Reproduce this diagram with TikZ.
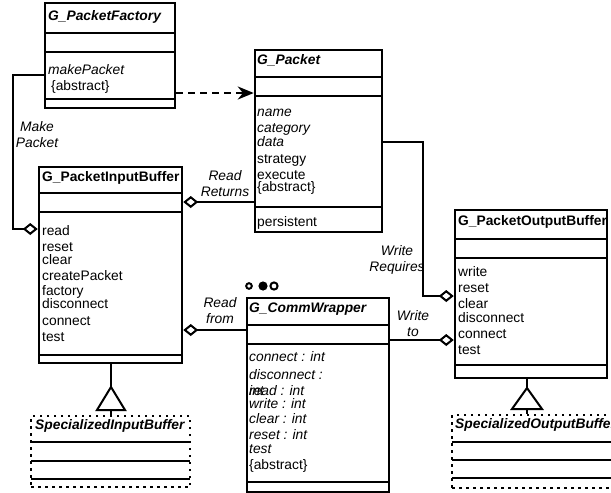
\documentclass[tikz,border=0pt]{standalone}
\usepackage{fontspec}
\setmainfont{Liberation Sans}
\usetikzlibrary{arrows.meta}

\tikzset{
  classbox/.style={draw, line width=2.5pt, inner sep=0pt},
  dotbox/.style={draw, line width=2pt, dash pattern=on 2.5pt off 4.5pt, inner sep=0pt},
  sep/.style={line width=2pt},
  txt/.style={anchor=west, inner sep=0pt, text height=10pt, text depth=3pt, font=\fontsize{13.8}{16}\selectfont},
  itxt/.style={txt, font=\fontsize{13.8}{16}\selectfont\itshape},
  ttl/.style={txt, font=\fontsize{13.8}{16}\selectfont\bfseries},
  ittl/.style={txt, font=\fontsize{13.8}{16}\selectfont\bfseries\itshape},
  lbl/.style={align=center, inner sep=0pt, font=\fontsize{13.8}{16}\selectfont\itshape},
  aggr/.style={line width=2pt, -{Diamond[open, length=15pt, width=12pt]}},
}

\begin{document}
\begin{tikzpicture}[x=1pt, y=-1pt]
\clip (0,0) rectangle (611,493);

% class boxes
\node[classbox, minimum width=130pt, minimum height=105pt] (fac) at (110,55.5) {};
\node[classbox, minimum width=127pt, minimum height=182pt] (pkt) at (318.5,141) {};
\node[classbox, minimum width=143pt, minimum height=196pt] (inb) at (110.5,265) {};
\node[classbox, minimum width=142pt, minimum height=194pt] (cw) at (318,395) {};
\node[classbox, minimum width=152pt, minimum height=168pt] (outb) at (531,294) {};
\node[dotbox, minimum width=159pt, minimum height=71pt] (sib) at (110.5,451.5) {};
\node[dotbox, minimum width=198pt, minimum height=73pt] (sob) at (551,451.5) {};

% compartments
\foreach \y in {33,52,99} \draw[sep] (45,\y) -- (175,\y);
\foreach \y in {77,96,207} \draw[sep] (255,\y) -- (382,\y);
\foreach \y in {193,212,355} \draw[sep] (39,\y) -- (182,\y);
\foreach \y in {325,344,482} \draw[sep] (247,\y) -- (389,\y);
\foreach \y in {239,258,365} \draw[sep] (455,\y) -- (607,\y);
\foreach \y in {442,461,479} \draw[sep] (31,\y) -- (190,\y);
\foreach \y in {442,460,478} \draw[sep] (452,\y) -- (611,\y);

% G_PacketFactory
\node[ittl] (facT) at (48,17) {G\_PacketFactory};
\node[itxt] (fac1) at (48,71) {makePacket};
\node[txt] (fac2) at (51,87) {\{abstract\}};

% G_Packet
\node[ittl] (pktT) at (257,61) {G\_Packet};
\foreach \y/\t [count=\i] in {113/name, 129/category, 143/data}
  \node[itxt] (pkt\i) at (257,\y) {\t};
\foreach \y/\t [count=\i] in {160/strategy, 176/execute, 188/\{abstract\}, 223/persistent}
  \node[txt] (pktu\i) at (257,\y) {\t};

% G_PacketInputBuffer
\begin{scope}
  \clip (39,167) rectangle (181,193);
  \node[ttl] (inbT) at (42,178) {G\_PacketInputBuffer};
\end{scope}
\foreach \y/\t [count=\i] in {232/read, 248/reset, 261/clear, 277/createPacket, 292/factory, 305/disconnect, 322/connect, 338/test}
  \node[txt] (inb\i) at (42,\y) {\t};

% G_CommWrapper
\node[ittl] (cwT) at (249,309) {G\_CommWrapper};
\foreach \y/\t [count=\i] in {358/connect : int, 376/disconnect :, 392/int, 392/read : int, 405/write : int, 420/clear : int, 436/reset : int, 450/test}
  \node[itxt] (cw\i) at (249,\y) {\t};
\node[txt] (cwA) at (249,466) {\{abstract\}};
\draw[line width=2pt] (249,286) circle[radius=2.8];
\fill (263,286) circle[radius=4.6];
\draw[line width=2pt] (274,286) circle[radius=3.6];

% G_PacketOutputBuffer
\begin{scope}
  \clip (455,210) rectangle (606,239);
  \node[ttl] (outbT) at (458,222) {G\_PacketOutputBuffer};
\end{scope}
\foreach \y/\t [count=\i] in {273/write, 289/reset, 305/clear, 319/disconnect, 335/connect, 351/test}
  \node[txt] (outb\i) at (458,\y) {\t};

% specialized buffers
\node[ittl] (sibT) at (35,426) {SpecializedInputBuffer};
\node[ittl] (sobT) at (455,425) {SpecializedOutputBuffer};

% labels
\node[lbl] (lMake) at (37,135) {Make\\Packet};
\node[lbl] (lRet) at (225,184) {Read\\Returns};
\node[lbl] (lFrom) at (220,311) {Read\\from};
\node[lbl] (lReq) at (397,260) {Write\\Requires};
\node[lbl] (lTo) at (413,324) {Write\\to};

% connectors
\coordinate (dsh) at (200,93);
\coordinate (mkA) at (13,75);
\coordinate (mkB) at (13,229);
\coordinate (rr) at (220,202);
\coordinate (rf) at (220,330);
\coordinate (wrA) at (423,142);
\coordinate (wrB) at (423,296);
\coordinate (wt) at (420,340);

\draw[line width=2.5pt, dash pattern=on 7pt off 5pt, -{Stealth[length=16pt, width=13pt]}] (fac.east |- dsh) -- (pkt.west |- dsh);
\draw[aggr] (fac.west |- mkA) -- (mkA) -- (mkB) -- (inb.west |- mkB);
\draw[aggr] (pkt.west |- rr) -- (inb.east |- rr);
\draw[aggr] (cw.west |- rf) -- (inb.east |- rf);
\draw[aggr] (pkt.east |- wrA) -- (wrA) -- (wrB) -- (outb.west |- wrB);
\draw[aggr] (cw.east |- wt) -- (outb.west |- wt);

% generalization
\coordinate (gInA) at (111,387);
\coordinate (gOutA) at (527,388);
\draw[line width=2pt] (inb.south -| gInA) -- (gInA);
\draw[line width=2pt] (gInA) -- ++(-14,23) -- ++(28,0) -- cycle;
\draw[line width=2pt] (gInA) ++(0,23) -- (sib.north -| gInA);
\draw[line width=2pt] (outb.south -| gOutA) -- (gOutA);
\draw[line width=2pt] (gOutA) -- ++(-15,21) -- ++(30,0) -- cycle;
\draw[line width=2pt] (gOutA) ++(0,21) -- (sob.north -| gOutA);
\end{tikzpicture}
\end{document}
